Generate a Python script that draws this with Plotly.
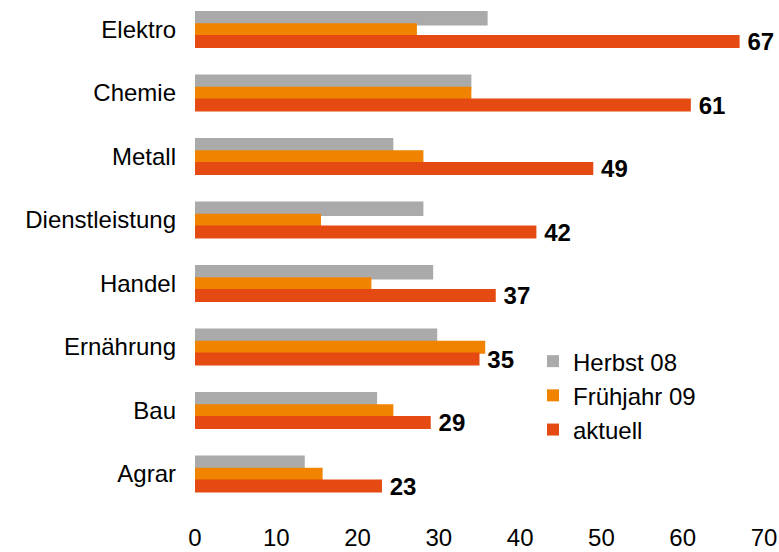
import plotly.graph_objects as go

categories = ["Elektro", "Chemie", "Metall", "Dienstleistung", "Handel", "Ernährung", "Bau", "Agrar"]
herbst_08 = [36.0, 34.0, 24.4, 28.1, 29.3, 29.8, 22.4, 13.5]
fruehjahr_09 = [27.3, 34.0, 28.1, 15.5, 21.7, 35.7, 24.4, 15.7]
aktuell = [67, 61, 49, 42, 37, 35, 29, 23]
series_names = ["Herbst 08", "Frühjahr 09", "aktuell"]
colors = ["#AAAAAA", "#F08300", "#E44A12"]

FONT = "Liberation Sans, Arial, sans-serif"
FS = 24

fig = go.Figure()
offsets = [-0.29, -0.10, 0.087]
widths = [0.225, 0.205, 0.205]
for vals, name, col, off, w in zip([herbst_08, fruehjahr_09, aktuell], series_names, colors, offsets, widths):
    kw = {}
    if name == "aktuell":
        kw = dict(text=[str(v) for v in vals], texttemplate="\u2009%{text}",
                  textposition="outside",
                  textfont=dict(family=FONT, size=FS, color="black", weight="bold"),
                  cliponaxis=False, constraintext="none")
    fig.add_trace(go.Bar(
        y=categories, x=vals, orientation="h", name=name,
        marker=dict(color=col, line=dict(width=0)),
        offset=off, width=w, legendgroup=name, hoverinfo="skip", **kw))

fig.update_layout(
    width=779, height=552,
    margin=dict(l=195, r=15, t=0, b=32, autoexpand=False),
    barmode="overlay",
    plot_bgcolor="white", paper_bgcolor="white",
    font=dict(family=FONT, size=FS, color="black"),
    showlegend=True,
    legend=dict(x=0.594, y=0.348, xanchor="left", yanchor="top",
                font=dict(size=FS), tracegroupgap=4, traceorder="normal",
                bgcolor="rgba(0,0,0,0)", itemwidth=30),
    xaxis=dict(range=[0, 70], tickvals=[0, 10, 20, 30, 40, 50, 60, 70],
               showgrid=False, zeroline=False, showline=False, ticks="",
               tickfont=dict(size=FS), ticklabelstandoff=1, automargin=False),
    yaxis=dict(type="category", categoryorder="array", categoryarray=categories,
               range=[7.724, -0.4646], showgrid=False, zeroline=False, showline=False,
               ticks="", tickfont=dict(size=FS), ticklabelstandoff=18, automargin=False),
)

fig.write_html("out.html", config={"displayModeBar": False},
               post_script="document.body.style.margin='0';document.body.style.overflow='hidden';")
